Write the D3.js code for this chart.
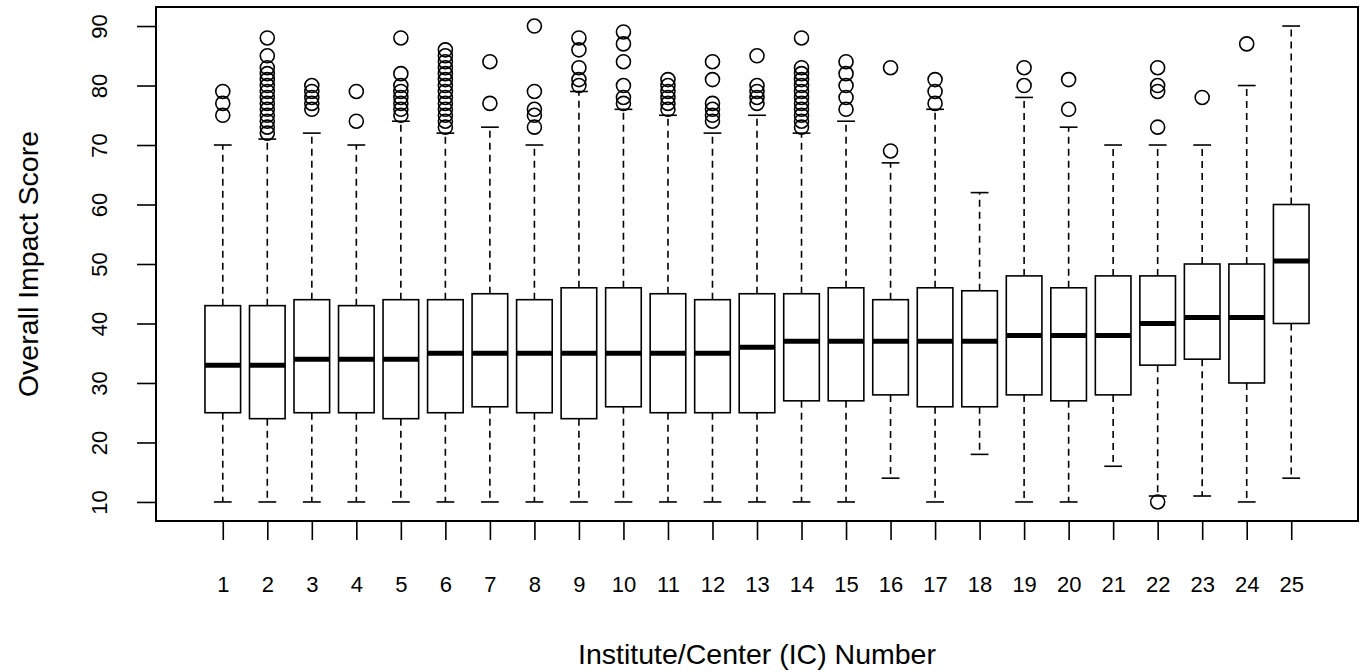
<!DOCTYPE html>
<html>
<head>
<meta charset="utf-8">
<script src="https://cdn.jsdelivr.net/npm/d3@7"></script>
<style>
  html, body { margin: 0; padding: 0; background: #fff; }
  svg { display: block; font-family: 'Liberation Sans', Arial, sans-serif; }
</style>
</head>
<body>
<svg id="chart" width="1364" height="672"></svg>
<script>
// IC numbers on the x axis
const groups = d3.range(1, 26);

// five number summaries
const whiskerLow = [10, 10, 10, 10, 10, 10, 10, 10, 10, 10, 10, 10, 10, 10, 10, 14, 10, 18, 10, 10, 16, 11, 11, 10, 14];
const q1 = [25, 24, 25, 25, 24, 25, 26, 25, 24, 26, 25, 25, 25, 27, 27, 28, 26, 26, 28, 27, 28, 33, 34, 30, 40];
const medians = [33, 33, 34, 34, 34, 35, 35, 35, 35, 35, 35, 35, 36, 37, 37, 37, 37, 37, 38, 38, 38, 40, 41, 41, 50.5];
const q3 = [43, 43, 44, 43, 44, 44, 45, 44, 46, 46, 45, 44, 45, 45, 46, 44, 46, 45.5, 48, 46, 48, 48, 50, 50, 60];
const whiskerHigh = [70, 71, 72, 70, 74, 72, 73, 70, 79, 76, 75, 72, 75, 72, 74, 67, 76, 62, 78, 73, 70, 70, 70, 80, 90];

const outliers = [
  [75, 77, 79],
  [72, 73, 74, 75, 76, 77, 78, 79, 80, 81, 82, 83, 85, 88],
  [76, 77, 78, 79, 80],
  [74, 79],
  [75, 76, 77, 78, 79, 80, 82, 88],
  [73, 74, 75, 76, 77, 78, 79, 80, 81, 82, 83, 84, 85, 86],
  [77, 84],
  [73, 75, 76, 79, 90],
  [80, 81, 83, 86, 88],
  [77, 78, 80, 84, 87, 89],
  [76, 77, 78, 79, 80, 81],
  [74, 75, 76, 77, 81, 84],
  [77, 78, 79, 80, 85],
  [73, 74, 75, 76, 77, 78, 79, 80, 81, 82, 83, 88],
  [76, 78, 80, 82, 84],
  [69, 83],
  [77, 79, 81],
  [],
  [80, 83],
  [76, 81],
  [],
  [10, 73, 79, 80, 83],
  [78],
  [87],
  []
];

const yTicks = [10, 20, 30, 40, 50, 60, 70, 80, 90];

class BoxChart {
  constructor(options = {}) {
    this.svg = options.container || d3.select('svg');
    this.left = 156;
    this.right = 1358;
    this.top = 7;
    this.bottom = 521;
    this.tickLen = 19;
    this.fontSize = 22;
    this.titleSize = 28.5;

    // R style: 4% padding on both axes
    this.x = d3.scaleLinear().domain([-0.5, 26.5]).range([this.left, this.right]);
    this.y = d3.scaleLinear().domain([6.8, 93.2]).range([this.bottom, this.top]);

    this.boxWidth = 0.8 * (this.x(2) - this.x(1));

    this.data = groups.map((g, i) => ({
      g,
      lo: whiskerLow[i],
      q1: q1[i],
      med: medians[i],
      q3: q3[i],
      hi: whiskerHigh[i],
      out: outliers[i]
    }));
  }

  draw() {
    this.svg.html('');
    this.drawBoxes();
    this.drawAxes();
    this.drawFrame();
    this.drawTitles();
  }

  drawBoxes() {
    const { x, y } = this;
    const bw = this.boxWidth;

    const g = this.svg.append('g')
      .attr('class', 'boxes')
      .selectAll('g')
      .data(this.data)
      .enter()
      .append('g');

    // whiskers (dashed)
    g.append('line')
      .attr('x1', d => x(d.g)).attr('x2', d => x(d.g))
      .attr('y1', d => y(d.q3)).attr('y2', d => y(d.hi))
      .attr('stroke', '#000').attr('stroke-width', 1.6)
      .attr('stroke-dasharray', '7,5');
    g.append('line')
      .attr('x1', d => x(d.g)).attr('x2', d => x(d.g))
      .attr('y1', d => y(d.q1)).attr('y2', d => y(d.lo))
      .attr('stroke', '#000').attr('stroke-width', 1.6)
      .attr('stroke-dasharray', '7,5');

    // staples
    g.append('line')
      .attr('x1', d => x(d.g) - bw / 4).attr('x2', d => x(d.g) + bw / 4)
      .attr('y1', d => y(d.hi)).attr('y2', d => y(d.hi))
      .attr('stroke', '#000').attr('stroke-width', 1.6);
    g.append('line')
      .attr('x1', d => x(d.g) - bw / 4).attr('x2', d => x(d.g) + bw / 4)
      .attr('y1', d => y(d.lo)).attr('y2', d => y(d.lo))
      .attr('stroke', '#000').attr('stroke-width', 1.6);

    // boxes
    g.append('rect')
      .attr('x', d => x(d.g) - bw / 2)
      .attr('width', bw)
      .attr('y', d => y(d.q3))
      .attr('height', d => y(d.q1) - y(d.q3))
      .attr('fill', '#fff')
      .attr('stroke', '#000')
      .attr('stroke-width', 1.6);

    // medians
    g.append('line')
      .attr('x1', d => x(d.g) - bw / 2).attr('x2', d => x(d.g) + bw / 2)
      .attr('y1', d => y(d.med)).attr('y2', d => y(d.med))
      .attr('stroke', '#000').attr('stroke-width', 5);

    // outliers
    g.selectAll('circle')
      .data(d => d.out.map(v => ({ g: d.g, v })))
      .enter()
      .append('circle')
      .attr('cx', d => x(d.g))
      .attr('cy', d => y(d.v))
      .attr('r', 7)
      .attr('fill', 'none')
      .attr('stroke', '#000')
      .attr('stroke-width', 1.6);
  }

  drawAxes() {
    const xAxis = d3.axisBottom(this.x)
      .tickValues(groups)
      .tickSize(this.tickLen)
      .tickPadding(0)
      .tickFormat(d3.format('d'));

    const gx = this.svg.append('g')
      .attr('transform', `translate(0,${this.bottom})`)
      .call(xAxis);
    gx.select('.domain').remove();
    gx.selectAll('line').attr('stroke-width', 1.6);
    gx.selectAll('text')
      .attr('y', 592 - this.bottom)
      .attr('dy', 0)
      .attr('font-size', this.fontSize)
      .attr('font-family', null);

    const yAxis = d3.axisLeft(this.y)
      .tickValues(yTicks)
      .tickSize(this.tickLen)
      .tickFormat(d3.format('d'));

    const gy = this.svg.append('g')
      .attr('transform', `translate(${this.left},0)`)
      .call(yAxis);
    gy.select('.domain').remove();
    gy.selectAll('line').attr('stroke-width', 1.6);
    gy.selectAll('text')
      .attr('transform', 'rotate(-90)')
      .attr('x', 0)
      .attr('y', 107 - this.left)
      .attr('dy', 0)
      .attr('text-anchor', 'middle')
      .attr('font-size', this.fontSize)
      .attr('font-family', null);
  }

  drawFrame() {
    this.svg.append('rect')
      .attr('x', this.left)
      .attr('y', this.top)
      .attr('width', this.right - this.left)
      .attr('height', this.bottom - this.top)
      .attr('fill', 'none')
      .attr('stroke', '#000')
      .attr('stroke-width', 2);
  }

  drawTitles() {
    this.svg.append('text')
      .attr('x', (this.left + this.right) / 2)
      .attr('y', 664)
      .attr('text-anchor', 'middle')
      .attr('font-size', this.titleSize)
      .text('Institute/Center (IC) Number');

    this.svg.append('text')
      .attr('transform', `translate(38,${(this.top + this.bottom) / 2}) rotate(-90)`)
      .attr('text-anchor', 'middle')
      .attr('font-size', this.titleSize)
      .text('Overall Impact Score');
  }
}

new BoxChart({ container: d3.select('#chart') }).draw();
</script>
</body>
</html>
